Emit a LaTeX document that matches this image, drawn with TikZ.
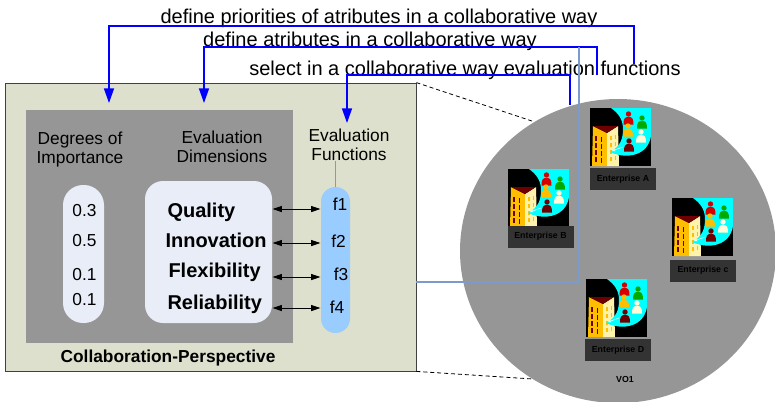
\documentclass[tikz,border=0pt]{standalone}
\usepackage{fontspec}
\setmainfont{Liberation Sans}
\usetikzlibrary{arrows.meta,shapes.geometric}

\definecolor{perspFill}{RGB}{221,224,204}
\definecolor{areaGray}{RGB}{150,150,150}
\definecolor{paleFill}{RGB}{232,237,247}
\definecolor{funcBlue}{RGB}{153,204,255}
\definecolor{flowBlue}{RGB}{0,0,255}
\definecolor{linkBlue}{RGB}{122,156,204}
\definecolor{tagGray}{RGB}{51,51,51}
\definecolor{waveCyan}{RGB}{0,255,255}
\definecolor{wallOrange}{RGB}{255,190,0}
\definecolor{wallCream}{RGB}{255,242,170}
\definecolor{roofRed}{RGB}{110,0,0}
\definecolor{staffRed}{RGB}{215,0,0}
\definecolor{staffGreen}{RGB}{0,170,0}
\definecolor{staffPale}{RGB}{255,250,215}

\tikzset{every picture/.style={line width=0.75pt}}
\tikzset{
	flow/.style={draw=flowBlue, line width=1.1pt, -{Triangle[length=11pt,width=7.5pt]}},
	biarrow/.style={line width=0.6pt, {Triangle[length=7pt,width=4.5pt]}-{Triangle[length=7pt,width=4.5pt]}},
	link/.style={draw=linkBlue, line width=1pt},
	cuts/.style={dash pattern=on 3pt off 2.2pt, line width=0.6pt},
	colhead/.style={font=\fontsize{13}{14.25}\selectfont, align=center, inner sep=0pt, anchor=north},
	weight/.style={font=\fontsize{13}{15}\selectfont, inner sep=0pt, anchor=base},
	dimension/.style={font=\fontsize{15}{18}\selectfont\bfseries, inner sep=0pt, anchor=base west},
	func/.style={font=\fontsize{13}{15}\selectfont, inner sep=0pt, anchor=base},
	note/.style={font=\fontsize{15}{18}\selectfont, inner sep=0pt, anchor=base},
	tag/.style={fill=tagGray, minimum width=49.5pt, minimum height=16.5pt, inner sep=0pt, font=\fontsize{6.6}{8}\selectfont\bfseries},
	enterprise/.pic={
		\begin{scope}[yscale=-1]
		\fill[black] (0,0) rectangle (61,58);
		% building
		\fill[wallOrange] (3,18) -- (17,25) -- (17,58) -- (2,58) -- cycle;
		\fill[wallCream] (17,25) -- (28,18) -- (29,58) -- (17,58) -- cycle;
		\fill[roofRed] (3,18) -- (28,18) -- (17,25) -- cycle;
		\foreach \wy in {28,35,42,49}{
			\fill[roofRed] (5,\wy) rectangle ++(1.8,4.5);
			\fill[roofRed] (10.5,\wy+1) rectangle ++(1.8,4.5);
			\fill[wallOrange] (20,\wy) rectangle ++(1.5,4);
			\fill[wallOrange] (24.5,\wy-1) rectangle ++(1.5,4);
		}
		% wave with the staff
		\fill[waveCyan] (21,0) -- (61,0) -- (61,28) .. controls (58,47) and (38,52) .. (20,44) .. controls (31,38) and (33,30) .. (33,21) .. controls (33,11) and (28,5) .. (21,0) -- cycle;
		\foreach \px/\py/\pc in {38.5/6/staffRed, 52/10/staffGreen, 38/18/wallOrange, 51/24/staffPale, 39/33/roofRed}{
			\fill[\pc] (\px,\py) circle (2.7);
			\fill[\pc] (\px,\py) ++(-5,10.5) .. controls +(0,-6.5) and +(-3.5,0) .. ++(5,-7.5) .. controls +(3.5,0) and +(0,-6.5) .. ++(5,7.5) -- cycle;
		}
		\draw[white, line width=0.4pt, -{Stealth[length=2.5pt]}] (33,39) -- (22,43);
		\end{scope}
	}
}

\begin{document}
\begin{tikzpicture}[x=0.75pt,y=0.75pt,yscale=-1,xscale=1]
	\useasboundingbox (0,0) rectangle (775,401);
	\clip (0,0) rectangle (775,401);

	%Shape: Ellipse
	\node[ellipse, fill=areaGray, inner sep=0pt, minimum width=237pt, minimum height=228pt] (vo) at (618,251) {};
	%Shape: Rectangle
	\node[draw=black!75, fill=perspFill, line width=0.6pt, inner sep=0pt, minimum width=308.25pt, minimum height=216pt] (persp) at (210.5,227) {};
	%Shape: Rectangle
	\fill[areaGray] (26,110) rectangle (293,343);

	%Rounded Rect
	\node[fill=paleFill, rounded corners=15pt, inner sep=0pt, minimum width=30.75pt, minimum height=103.5pt] (weights) at (83.5,254) {};
	%Rounded Rect
	\node[fill=paleFill, rounded corners=13.5pt, inner sep=0pt, minimum width=95.25pt, minimum height=106.5pt] (dims) at (208.5,252) {};
	%Rounded Rect
	\node[fill=funcBlue, rounded corners=10.8pt, inner sep=0pt, minimum width=21.75pt, minimum height=109.5pt] (funcs) at (335.5,260) {};

	% Text Node
	\node[note] (prio) at (379,23) {define priorities of atributes in a collaborative way};
	% Text Node
	\node[note] (attr) at (370,46) {define atributes in a collaborative way};
	% Text Node
	\node[note] (selfun) at (465,75) {select in a collaborative way evaluation functions};

	% Text Node
	\node[colhead] (degrees) at (80,131.5) {Degrees of\\Importance};
	% Text Node
	\node[colhead] (evaldim) at (222,130) {Evaluation\\Dimensions};
	% Text Node
	\node[colhead] (evalfun) at (349,128) {Evaluation\\Functions};

	% Text Node
	\node[weight] (w1) at (84.5,216) {0.3};
	\node[weight] (w2) at (84.5,246) {0.5};
	\node[weight] (w3) at (84.5,280) {0.1};
	\node[weight] (w4) at (84.5,305) {0.1};

	% Text Node
	\node[dimension] (quality) at (167,217) {Quality};
	\node[dimension] (innovation) at (165,247.5) {Innovation};
	\node[dimension] (flexibility) at (168,277.5) {Flexibility};
	\node[dimension] (reliability) at (167,309.5) {Reliability};

	% Text Node
	\node[func] (f1) at (340,210.5) {f1};
	\node[func] (f2) at (338.5,247) {f2};
	\node[func] (f3) at (341,280) {f3};
	\node[func] (f4) at (337,313) {f4};

	% Text Node
	\node[font=\fontsize{13}{15}\selectfont\bfseries, inner sep=0pt, anchor=base] (persplabel) at (168,362) {Collaboration-Perspective};

	%Straight Lines
	\foreach \ay in {209,243,277,308}
		\draw[biarrow] (dims.east |- 0,\ay) -- (funcs.west |- 0,\ay);
	\draw[linkBlue, line width=0.75pt] (funcs.north) -- (evalfun.south -| funcs.north);

	%Connectors
	\coordinate (prioSrc) at (634,64);
	\coordinate (prioTip) at (109,103);
	\coordinate (attrSrc) at (597,75);
	\coordinate (attrTip) at (204,103);
	\coordinate (funSrc) at (570,105);
	\coordinate (funTip) at (347,123);
	\draw[flow] (prioSrc) -- ++(0,-38) -| (prioTip);
	\draw[flow] (attrSrc) -- ++(0,-28) -| (attrTip);
	\draw[flow] (funSrc) -- ++(0,-30) -| (funTip);

	\coordinate (linkBend) at (579,282);
	\draw[link] (persp.east |- linkBend) -- (linkBend) -- ++(0,-235);

	%Dashed Lines
	\draw[cuts] (persp.north east) -- (vo.123);
	\draw[cuts] (persp.south east) -- (vo.236);

	%Enterprises
	\pic at (590,108) {enterprise};
	\node[tag] (entA) at (623,179) {Enterprise A};
	\pic at (508,169) {enterprise};
	\node[tag] (entB) at (540.5,236.5) {Enterprise B};
	\pic at (672,198) {enterprise};
	\node[tag] (entC) at (703,270.5) {Enterprise c};
	\pic at (586,279) {enterprise};
	\node[tag] (entD) at (618,350) {Enterprise D};

	% Text Node
	\node[font=\fontsize{6.6}{8}\selectfont\bfseries, inner sep=0pt] (voname) at (625,379) {VO1};

\end{tikzpicture}
\end{document}
